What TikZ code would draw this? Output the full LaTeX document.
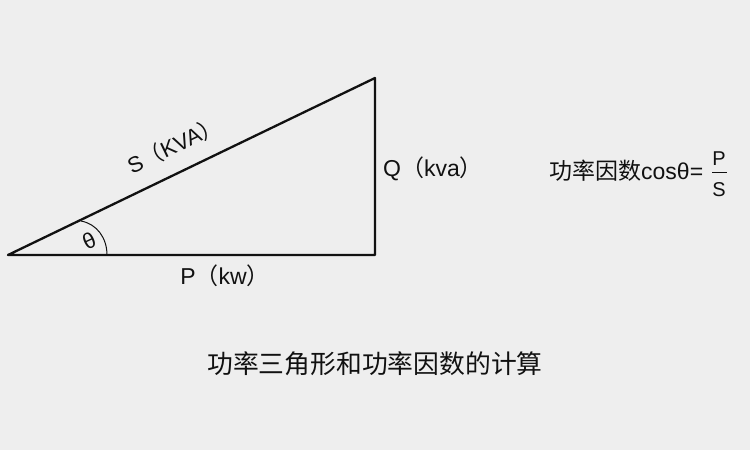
\documentclass[tikz,border=0pt]{standalone}
\usepackage{fontspec}
\setmainfont{Liberation Sans}
\newfontfamily\cjk{Noto Sans CJK SC}
\definecolor{bg}{HTML}{EEEEEE}
\definecolor{ink}{HTML}{111111}
\begin{document}
\begin{tikzpicture}[x=1pt,y=-1pt,
  edge/.style={draw=ink,line width=2.3pt,line cap=round,line join=round},
  lbl/.style={text=ink,inner sep=0pt,font=\fontsize{23}{23}\selectfont}]
\fill[bg] (0,0) rectangle (750,450);
\useasboundingbox (0,0) rectangle (750,450);
\coordinate (A) at (8,255);
\coordinate (B) at (375,255);
\coordinate (C) at (375,78);
\draw[edge] (A) -- (B) -- (C) -- cycle;
\coordinate (a1) at (81,221);
\coordinate (a2) at (107,255);
\draw[ink,line width=1pt] (a1) .. controls (97,224) and (107,238) .. (a2);
\node[lbl,rotate=25,font=\fontsize{22}{22}\selectfont] (th) at (89,241) {θ};
\node[lbl,rotate=25.7,font=\fontsize{22}{22}\selectfont] (S) at (174,145) {S{\cjk （}KVA{\cjk ）}};
\node[lbl] (P) at (225,276) {P{\cjk （}kw{\cjk ）}};
\node[lbl,anchor=west] (Q) at (383,169) {Q{\cjk （}kva{\cjk ）}};
\node[lbl,anchor=west] (F) at (549,171) {{\cjk 功率因数}cosθ=};
\node[lbl,font=\fontsize{20}{20}\selectfont] (FP) at (719,159) {P};
\node[lbl,font=\fontsize{20}{20}\selectfont] (FS) at (719,190) {S};
\coordinate (f1) at (712,172);
\coordinate (f2) at (727,172);
\draw[ink,line width=1pt] (f1) -- (f2);
\node[lbl,font=\cjk\fontsize{25.8}{26}\selectfont] (T) at (375,364) {功率三角形和功率因数的计算};
\end{tikzpicture}
\end{document}
